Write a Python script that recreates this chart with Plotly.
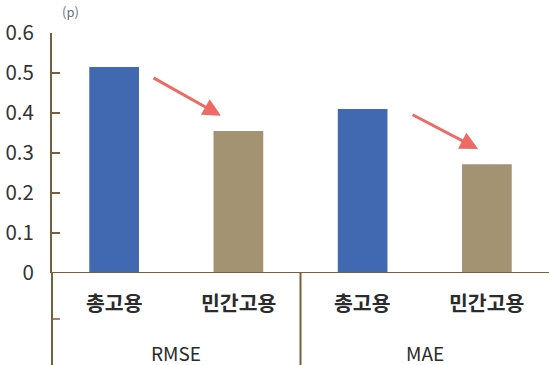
import plotly.graph_objects as go

# Forecast error by employment series
groups = ["RMSE", "RMSE", "MAE", "MAE"]
categories = ["총고용", "민간고용", "총고용", "민간고용"]
values = [0.515, 0.355, 0.41, 0.272]
bar_colors = ["#4169B2", "#A39373", "#4169B2", "#A39373"]
y_ticks = [0, 0.1, 0.2, 0.3, 0.4, 0.5, 0.6]
y_tick_labels = ["0", "0.1", "0.2", "0.3", "0.4", "0.5", "0.6"]
group_names = ["RMSE", "MAE"]

AXIS = "#7A5F3C"
TEXT = "#2B2B2B"
ARROW = "#EE6A66"
FONT = "Noto Sans CJK KR, Liberation Sans, sans-serif"

x_pos = list(range(len(categories)))

fig = go.Figure(
    go.Bar(
        x=x_pos,
        y=values,
        width=0.4,
        marker=dict(color=bar_colors, line=dict(width=0)),
        hoverinfo="skip",
    )
)

fig.update_layout(
    width=549,
    height=365,
    margin=dict(l=52, r=0, t=33, b=92),
    paper_bgcolor="white",
    plot_bgcolor="white",
    showlegend=False,
    font=dict(family=FONT, color=TEXT),
)

fig.update_xaxes(
    range=[-0.5, 3.5],
    showticklabels=False,
    ticks="",
    showgrid=False,
    zeroline=False,
    showline=False,
)

fig.update_yaxes(
    range=[0, 0.6],
    tickvals=y_ticks,
    ticktext=y_tick_labels,
    ticks="inside",
    ticklen=8,
    tickwidth=1.5,
    tickcolor=AXIS,
    showline=True,
    linecolor=AXIS,
    linewidth=2,
    showgrid=False,
    zeroline=False,
    tickfont=dict(size=20.5, color="#333333", family=FONT),
    ticklabelstandoff=12,
)

# Baseline and category-axis frame lines
fig.add_shape(type="line", xref="paper", yref="y", x0=0, x1=1, y0=0, y1=0,
              line=dict(color=AXIS, width=2))
fig.add_shape(type="line", xref="paper", yref="paper", x0=0, x1=0, y0=0, y1=-92 / 240,
              line=dict(color=AXIS, width=2))
fig.add_shape(type="line", xref="x", yref="paper", x0=1.5, x1=1.5, y0=0, y1=-92 / 240,
              line=dict(color=AXIS, width=2))
fig.add_shape(type="line", xref="paper", yref="paper", x0=0, x1=8 / 497,
              y0=-46 / 240, y1=-46 / 240, line=dict(color=AXIS, width=1.5))

# Category labels
for xi, cat in zip(x_pos, categories):
    fig.add_annotation(x=xi, y=-29 / 240, xref="x", yref="paper", text=f"<b>{cat}</b>",
                       showarrow=False, font=dict(size=20.5, color=TEXT),
                       yanchor="middle")

# Group labels
for gi, name in enumerate(group_names):
    fig.add_annotation(x=gi * 2 + 0.5, y=-79 / 240, xref="x", yref="paper", text=name,
                       showarrow=False, font=dict(size=19, color=TEXT),
                       yanchor="middle")

# Unit label
fig.add_annotation(x=0.037, y=1.09, xref="paper", yref="paper", text="(p)",
                   showarrow=False, font=dict(size=13, color="#707070"),
                   xanchor="center", yanchor="middle")

# Decline arrows
arrows = [((0.305, 0.49), (0.86, 0.393)), ((2.39, 0.3975), (2.93, 0.31))]
for (x0, y0), (x1, y1) in arrows:
    fig.add_annotation(x=x1, y=y1, ax=x0, ay=y0, xref="x", yref="y", axref="x", ayref="y",
                       text="", showarrow=True, arrowhead=2, arrowsize=1.2,
                       arrowwidth=3, arrowcolor=ARROW)

fig.write_html("out.html")
